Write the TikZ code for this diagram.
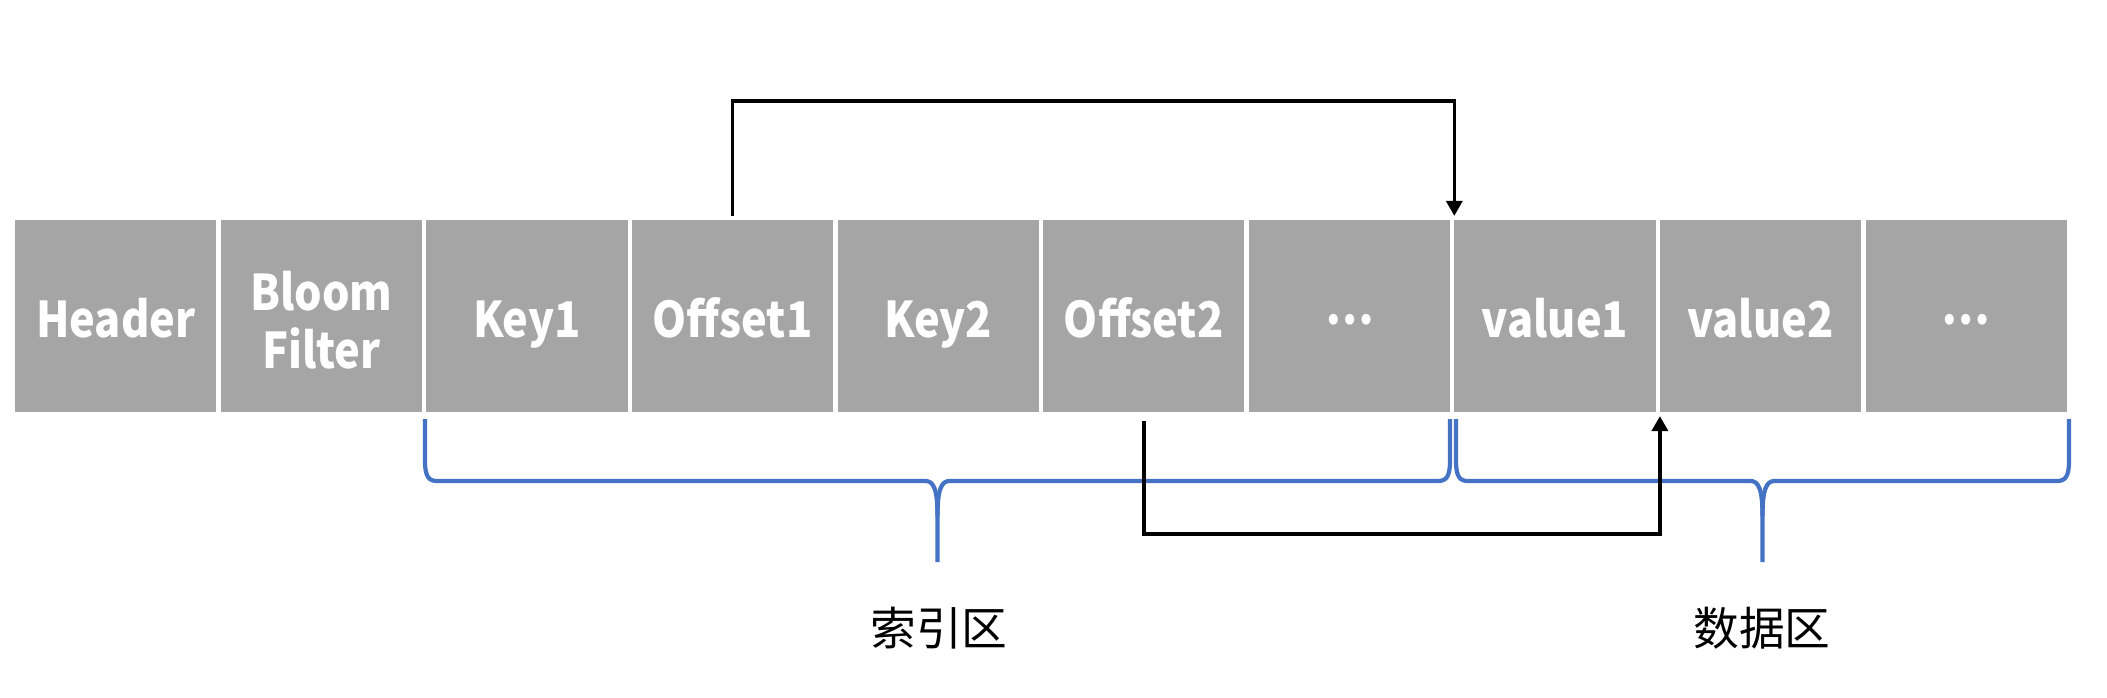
\documentclass[tikz,border=0pt]{standalone}
\usepackage{fontspec}
\setmainfont{Noto Sans CJK SC}
\newfontfamily\cellfont{Noto Sans CJK SC}[FakeStretch=0.88]
\usetikzlibrary{arrows.meta}
\definecolor{cellgray}{HTML}{A5A5A5}
\definecolor{braceblue}{HTML}{4472C4}

\begin{document}
\begin{tikzpicture}[x=0.1mm,y=-0.1mm,
			cell node/.style={rectangle,draw=white,line width=1.2pt,fill=cellgray,minimum width=20.56mm,minimum height=19.6mm,inner sep=0pt,text=white,font=\fontsize{14}{16.5}\selectfont\cellfont\bfseries,text height=16pt,text depth=3.8pt},
			two lines/.style={align=center,text height=,text depth=},
			link/.style={line width=1pt,-{Triangle[width=1.6mm,length=1.5mm]}},
			brace line/.style={draw=braceblue,line width=1.2pt},
			area label/.style={font=\fontsize{13}{15}\selectfont}
			]
			
			\def \w {205.6};
			\def \x {13};
			\def \y {316};
			
			\useasboundingbox (0,0) rectangle (2107,698);
			
			\foreach \i/\n/\o/\t in {1/hdr//Header,2/bloom/two lines/{\rule{0pt}{13.5pt}Bloom\\Filter},3/key1//Key1,4/off1//Offset1,5/key2//Key2,6/off2//Offset2,7/dotsA//{\raisebox{3.8pt}{…}},8/val1//value1,9/val2//value2,10/dotsB//{\raisebox{3.8pt}{…}}} {
				\node[cell node,\o] at ({\x + \w*(\i-0.5)},\y) (\n) {\t};
			}
			
			% braces under the index part and the data part
			\foreach \a/\b in {425/1450,1456/2069} {
				\draw[brace line] (\a,419) -- (\a,461) .. controls (\a,477) and ({\a+4},481) .. ({\a+12},481)
					-- ({(\a+\b)/2-12},481) .. controls ({(\a+\b)/2-4},481) and ({(\a+\b)/2},489) .. ({(\a+\b)/2},516)
					-- ({(\a+\b)/2},562);
				\draw[brace line] ({(\a+\b)/2},516) .. controls ({(\a+\b)/2},489) and ({(\a+\b)/2+4},481) .. ({(\a+\b)/2+12},481)
					-- ({\b-12},481) .. controls ({\b-4},481) and (\b,477) .. (\b,461) -- (\b,419);
			}
			\node[area label] (idx) at (939,628) {索引区};
			\node[area label] (dat) at (1762,628) {数据区};
			
			\draw[link] (off1.north) -- ++(0,-115) -| (dotsA.north east);
			\draw[link] ([yshift=-0.5mm]off2.south) -- ++(0,113) -| (val1.south east);
\end{tikzpicture}
\end{document}
